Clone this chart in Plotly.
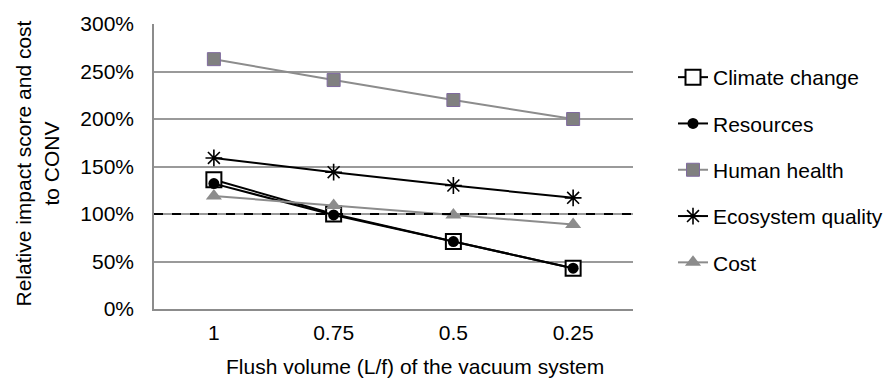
import plotly.graph_objects as go

categories = ["1", "0.75", "0.5", "0.25"]
climate_change = [136, 100, 71, 43]
resources = [132, 99, 71, 43]
human_health = [263, 241, 220, 200]
ecosystem_quality = [159, 144, 130, 117]
cost = [119, 109, 99, 89]
baseline = 100

FONT = "Liberation Sans, Arial, sans-serif"
FS = 21

fig = go.Figure()

fig.add_trace(go.Scatter(
    x=categories, y=climate_change, name="Climate change", mode="lines+markers",
    line=dict(color="black", width=2),
    marker=dict(symbol="square", size=15, color="white", line=dict(color="black", width=2)),
    legendgroup="a"))
fig.add_trace(go.Scatter(
    x=categories, y=resources, name="Resources", mode="lines+markers",
    line=dict(color="black", width=2),
    marker=dict(symbol="circle", size=11, color="black"),
    legendgroup="b"))
fig.add_trace(go.Scatter(
    x=categories, y=human_health, name="Human health", mode="lines+markers",
    line=dict(color="#8C8C8C", width=2),
    marker=dict(symbol="square", size=13, color="#808080", line=dict(color="#7F6A9E", width=1)),
    legendgroup="c"))
fig.add_trace(go.Scatter(
    x=categories, y=ecosystem_quality, name="Ecosystem quality", mode="lines+markers",
    line=dict(color="black", width=2),
    marker=dict(symbol="asterisk", size=14, color="black", line=dict(color="black", width=1.6)),
    legendgroup="d"))
fig.add_trace(go.Scatter(
    x=categories, y=cost, name="Cost", mode="lines+markers",
    line=dict(color="#8C8C8C", width=2),
    marker=dict(symbol="triangle-up", size=14, color="#8C8C8C"),
    legendgroup="e"))

fig.add_shape(type="line", xref="paper", x0=0, x1=1, yref="y", y0=baseline, y1=baseline,
              line=dict(color="black", width=2, dash="dash"), layer="above")

fig.update_layout(
    width=893, height=386,
    margin=dict(l=154, r=260, t=21, b=77),
    paper_bgcolor="white", plot_bgcolor="white",
    font=dict(family=FONT, size=FS, color="black"),
    showlegend=True,
    legend=dict(
        xref="container", yref="container", x=673 / 893, y=1 - 57 / 386,
        xanchor="left", yanchor="top",
        traceorder="grouped", tracegroupgap=16, maxheight=1,
        font=dict(family=FONT, size=FS, color="black"),
        bgcolor="rgba(0,0,0,0)", itemwidth=30,
    ),
    xaxis=dict(
        type="category", range=[-0.5, 3.5], showgrid=False,
        showline=True, linecolor="#8C8C8C", linewidth=1.5,
        ticks="", ticklabelstandoff=4, zeroline=False,
        tickfont=dict(family=FONT, size=FS, color="black"),
    ),
    yaxis=dict(
        range=[0, 300], dtick=50, ticksuffix="%",
        showgrid=True, gridcolor="#9A9A9A", gridwidth=1.5,
        showline=True, linecolor="#8C8C8C", linewidth=1.5,
        ticks="", ticklabelstandoff=14, zeroline=False,
        tickfont=dict(family=FONT, size=FS, color="black"),
    ),
    annotations=[
        dict(text="Flush volume (L/f) of the vacuum system", xref="paper", yref="paper",
             x=(415 - 154) / 479, y=-(367 - 309) / 288, xanchor="center", yanchor="middle",
             showarrow=False, font=dict(family=FONT, size=FS, color="black")),
        dict(text="Relative impact score and cost<br>to CONV", xref="paper", yref="paper",
             x=(37 - 154) / 479, y=(309 - 162) / 288, xanchor="center", yanchor="middle",
             textangle=-90, showarrow=False, font=dict(family=FONT, size=FS, color="black")),
    ],
)

fig.write_html("out.html")
